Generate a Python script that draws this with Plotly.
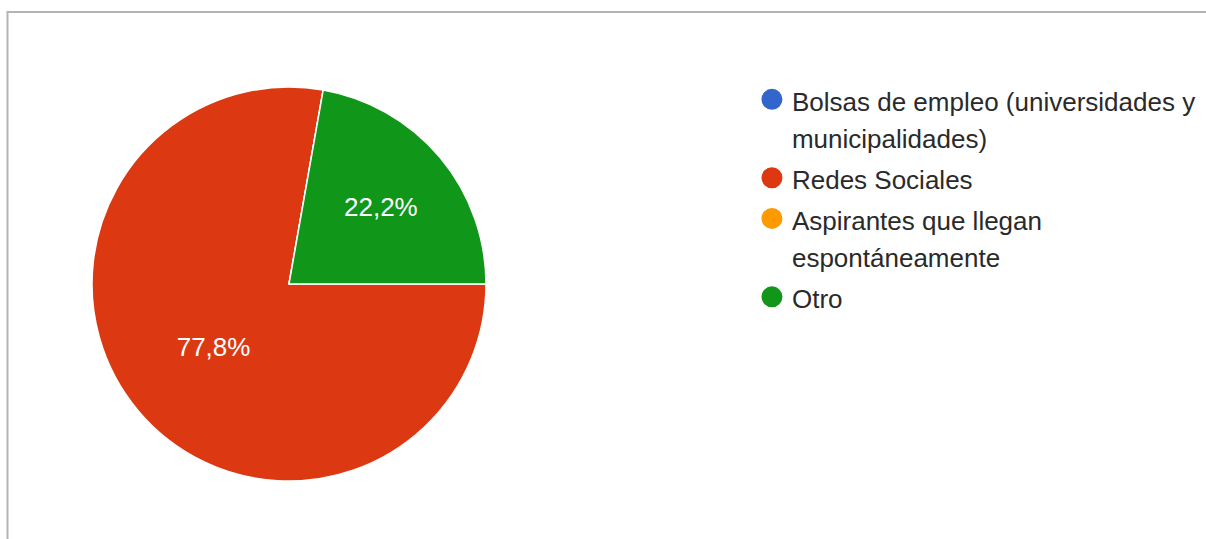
import plotly.graph_objects as go

labels = ["Bolsas de empleo (universidades y<br>municipalidades)",
          "Redes Sociales",
          "Aspirantes que llegan<br>espontáneamente",
          "Otro"]
values = [0, 7, 0, 2]
colors = ["#3366cc", "#dc3912", "#ff9900", "#109618"]

W, H = 1206, 539
cx, cy, r = 289, 284, 197
FONT = "Liberation Sans, Arial, sans-serif"

fig = go.Figure()
fig.add_trace(go.Pie(
    labels=labels, values=values, sort=False, direction="clockwise", rotation=90,
    marker=dict(colors=colors, line=dict(color="white", width=1.5)),
    texttemplate=["" if v == 0 else "%{percent:.1%}" for v in values],
    textposition="inside", insidetextorientation="horizontal",
    textfont=dict(color="white", size=26, family=FONT),
    showlegend=False, hoverinfo="skip",
    domain=dict(x=[(cx - r) / W, (cx + r) / W], y=[(H - cy - r) / H, (H - cy + r) / H]),
))
for lab, col in zip(labels, colors):
    fig.add_trace(go.Scatter(
        x=[None], y=[None], mode="markers", name=f'<span style="font-size:26px">{lab}</span>',
        marker=dict(symbol="circle", size=16, color=col, line=dict(color=col, width=5)),
        legendgroup=lab, showlegend=True,
    ))

fig.update_layout(
    width=W, height=H, margin=dict(l=0, r=0, t=0, b=0),
    paper_bgcolor="white", plot_bgcolor="white", separators=",.",
    xaxis=dict(visible=False), yaxis=dict(visible=False),
    legend=dict(x=0.6235, y=(H - 74) / H, xanchor="left", yanchor="top",
                font=dict(size=29, family=FONT, color="#2a2a2a"),
                valign="top", tracegroupgap=0, bgcolor="rgba(0,0,0,0)"),
    shapes=[dict(type="rect", xref="paper", yref="paper",
                 x0=7.5 / W, x1=1.02, y0=-0.02, y1=(H - 12) / H,
                 line=dict(color="#b4b4b4", width=2))],
)
fig.write_html("out.html", config={"displayModeBar": False}, post_script=(
    "document.documentElement.style.margin='0';document.body.style.margin='0';"
    "document.body.style.overflow='hidden';"))
